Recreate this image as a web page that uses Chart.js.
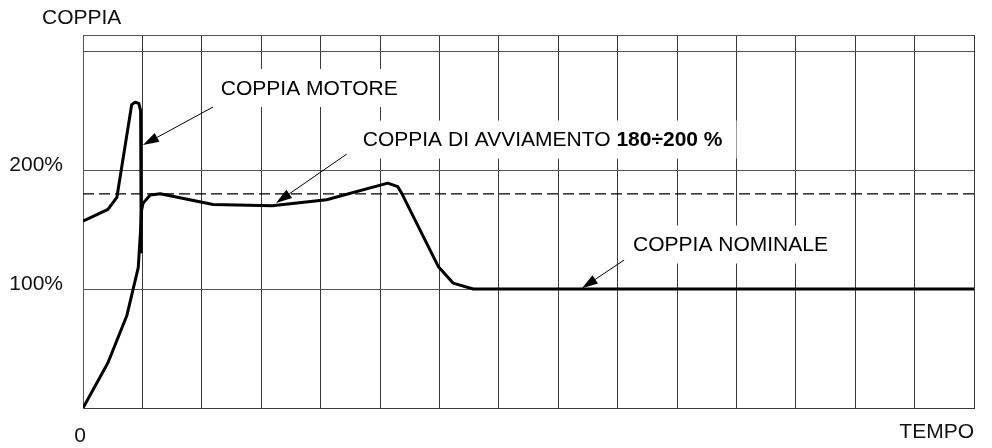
<!DOCTYPE html>
<html>
<head>
<meta charset="utf-8">
<script src="https://cdn.jsdelivr.net/npm/chart.js@4/dist/chart.umd.min.js"></script>
<style>
  body { margin: 0; background: #fff; }
</style>
</head>
<body>
<canvas id="chart" width="992" height="448"></canvas>
<script>
// time axis (grid units) and torque (% of nominal)
const motoreT = [0, 0.42, 0.57, 0.82, 0.875, 0.94, 0.97, 0.98]
const motoreC = [157, 167, 177, 255, 257, 256, 250, 130]

const avvioT = [0, 0.42, 0.74, 0.93, 0.97, 0.985, 1.01, 1.13, 1.3, 2.19, 3.18, 4.1, 5.13, 5.3, 5.37, 5.98, 6.23, 6.57, 15]
const avvioC = [0, 38, 78, 118, 150, 166, 172, 179, 180, 171, 170, 175, 189, 186, 180, 119, 105, 100, 100]

const riferimentoT = [0, 15]
const riferimentoC = [180, 180]

const yTicks = [0, 100, 200, 300]
const yLabels = ['', '100%', '200%', '']
const yMax = 313.5
const xMax = 15

const FONT = '21px "Liberation Sans", Arial, sans-serif'
const FONT_B = 'bold 21px "Liberation Sans", Arial, sans-serif'

const toPoints = (t, c) => t.map((x, i) => ({ x, y: c[i] }))

// labels with white box + arrow, positioned in data coords
const notes = [
  { parts: [['COPPIA MOTORE', FONT]], x: 2.32, y: 269, from: [2.19, 253], to: [1.01, 221] },
  { parts: [['COPPIA DI AVVIAMENTO ', FONT], ['180÷200 %', FONT_B]], x: 4.71, y: 225.6, from: [4.44, 213.4], to: [3.25, 172.3] },
  { parts: [['COPPIA NOMINALE', FONT]], x: 9.26, y: 137.4, from: [9.11, 124.4], to: [8.40, 100.6] }
]

const drawArrow = (ctx, x1, y1, x2, y2) => {
  const ang = Math.atan2(y2 - y1, x2 - x1)
  const len = 16
  const hw = 5
  const bx = x2 - len * Math.cos(ang)
  const by = y2 - len * Math.sin(ang)
  ctx.beginPath()
  ctx.moveTo(x1, y1)
  ctx.lineTo(bx, by)
  ctx.lineWidth = 1
  ctx.strokeStyle = '#000'
  ctx.stroke()
  ctx.beginPath()
  ctx.moveTo(x2, y2)
  ctx.lineTo(bx + hw * Math.sin(ang), by - hw * Math.cos(ang))
  ctx.lineTo(bx - hw * Math.sin(ang), by + hw * Math.cos(ang))
  ctx.closePath()
  ctx.fillStyle = '#000'
  ctx.fill()
}

const annotations = {
  id: 'annotations',
  afterDatasetsDraw (chart) {
    const { ctx, scales: { x, y } } = chart
    ctx.save()
    ctx.textBaseline = 'middle'
    notes.forEach(n => {
      const px = x.getPixelForValue(n.x)
      const py = y.getPixelForValue(n.y)
      let w = 0
      n.parts.forEach(([txt, f]) => { ctx.font = f; w += ctx.measureText(txt).width })
      ctx.fillStyle = '#fff'
      ctx.fillRect(px - 14, py - 19, w + 28, 38)
      let cx = px
      ctx.fillStyle = '#000'
      ctx.textAlign = 'left'
      n.parts.forEach(([txt, f]) => {
        ctx.font = f
        ctx.fillText(txt, cx, py + 1)
        cx += ctx.measureText(txt).width
      })
      drawArrow(ctx,
        x.getPixelForValue(n.from[0]), y.getPixelForValue(n.from[1]),
        x.getPixelForValue(n.to[0]), y.getPixelForValue(n.to[1]))
    })

    // axis texts
    ctx.font = FONT
    ctx.fillStyle = '#111'
    ctx.textAlign = 'right'
    yTicks.forEach((v, i) => {
      if (yLabels[i]) ctx.fillText(yLabels[i], 63, y.getPixelForValue(v) - 5)
    })
    ctx.textAlign = 'center'
    ctx.fillText('0', x.getPixelForValue(0) - 3, y.bottom + 28)
    ctx.textAlign = 'left'
    ctx.fillText('COPPIA', 42, 18)
    ctx.textAlign = 'right'
    ctx.fillText('TEMPO', x.right, y.bottom + 24)
    ctx.restore()
  }
}

const chart = new Chart(document.querySelector('#chart').getContext('2d'), {
  type: 'line',
  data: {
    datasets: [
      {
        label: 'riferimento',
        data: toPoints(riferimentoT, riferimentoC),
        borderColor: '#000',
        borderWidth: 1.2,
        borderDash: [11, 5],
        pointRadius: 0
      },
      {
        label: 'coppia motore',
        data: toPoints(motoreT, motoreC),
        borderColor: '#000',
        borderWidth: 3,
        borderJoinStyle: 'round',
        pointRadius: 0
      },
      {
        label: 'coppia avviamento',
        data: toPoints(avvioT, avvioC),
        borderColor: '#000',
        borderWidth: 3,
        borderJoinStyle: 'round',
        pointRadius: 0
      }
    ]
  },
  options: {
    responsive: false,
    animation: false,
    layout: { padding: { left: 83, right: 18, top: 35, bottom: 40 } },
    plugins: { legend: { display: false }, tooltip: { enabled: false } },
    scales: {
      x: {
        type: 'linear',
        min: 0,
        max: xMax,
        ticks: { display: false, stepSize: 1 },
        grid: { color: '#3a3a3a', lineWidth: 1, drawTicks: false },
        border: { color: '#3a3a3a' }
      },
      y: {
        min: 0,
        max: yMax,
        afterBuildTicks: axis => { axis.ticks = yTicks.concat([yMax]).map(value => ({ value })) },
        ticks: { display: false },
        grid: { color: '#555', lineWidth: 1, drawTicks: false },
        border: { color: '#555' }
      }
    }
  },
  plugins: [annotations]
})
</script>
</body>
</html>
